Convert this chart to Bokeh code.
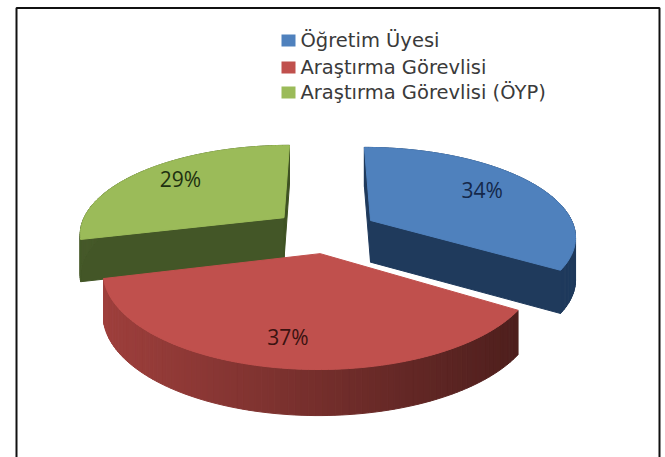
import numpy as np
from bokeh.plotting import figure
from bokeh.models import Range1d
from bokeh.core.properties import value
from bokeh.embed import file_html
from bokeh.resources import INLINE

# data
categories = ["Öğretim Üyesi", "Araştırma Görevlisi", "Araştırma Görevlisi (ÖYP)"]
shares = [34, 37, 29]
top_colors = ["#4F81BD", "#C0504D", "#9BBB59"]
side_left = ["#1F3A5C", "#9E3F3C", "#46592A"]
side_right = ["#1F3A5C", "#4E1F1D", "#3F5223"]
label_colors = ["#14284A", "#3A1210", "#1E3010"]

# projection of the tilted pie (page pixels)
X0, Y0 = 328.0, 230.4
R, RS, PERSP, EXPLODE, DEPTH = 205.0, 88.3, 0.165, 0.25, 42.0
slice_nudge = [-2, 0, -5]
label_radius = [0.68, 0.8, 0.72]
draw_cut_faces = [True, False, True]


def project(X, Z):
    w = 1 + PERSP * np.asarray(Z)
    return X0 + R * np.asarray(X) / w, Y0 - RS * np.asarray(Z) / w, w


def mix(a, b, t):
    ca = np.array([int(a[i:i + 2], 16) for i in (1, 3, 5)])
    cb = np.array([int(b[i:i + 2], 16) for i in (1, 3, 5)])
    c = (ca + (cb - ca) * t).round().astype(int)
    return "#%02x%02x%02x" % tuple(c)


p = figure(width=665, height=457, output_backend="svg", toolbar_location=None,
           x_range=Range1d(0, 665), y_range=Range1d(457, 0),
           min_border=0, outline_line_color=None,
           background_fill_color="white", border_fill_color="white")
p.axis.visible = False
p.grid.visible = False

# picture frame, open at the bottom
p.line([16, 16, 659, 659], [457, 7.5, 7.5, 457], line_color="#111111", line_width=2)

angles = np.cumsum([0] + shares) / sum(shares) * 2 * np.pi
wedges = []
for i in range(len(shares)):
    a0, a1 = angles[i], angles[i + 1]
    mid = (a0 + a1) / 2
    ax, az = EXPLODE * np.sin(mid), EXPLODE * np.cos(mid)
    th = np.linspace(a0, a1, 90)
    X = np.concatenate([[ax], ax + np.sin(th), [ax]])
    Z = np.concatenate([[az], az + np.cos(th), [az]])
    wedges.append((i, X, Z, mid, ax, az))

# painter's order: back slices first, the front (red) slice last
for i, X, Z, mid, ax, az in [wedges[0], wedges[2], wedges[1]]:
    sx, sy, w = project(X, Z)
    sx = sx + slice_nudge[i]
    drop = DEPTH / w ** 0.4
    xs, ys, cs = [], [], []
    span = max(sx.max() - sx.min(), 1)
    last = len(sx) - 2
    for j in range(len(sx) - 1):
        if j in (0, last) and not draw_cut_faces[i]:
            continue
        xs.append([sx[j], sx[j + 1], sx[j + 1], sx[j]])
        ys.append([sy[j], sy[j + 1], sy[j + 1] + drop[j + 1], sy[j] + drop[j]])
        t = ((sx[j] + sx[j + 1]) / 2 - sx.min()) / span
        cs.append(mix(side_left[i], side_right[i], float(t)))
    p.patches(xs, ys, fill_color=cs, line_color=cs, line_width=1)
    p.patch(sx, sy, fill_color=top_colors[i], line_color=top_colors[i], line_width=1)

# percentage labels
for i, X, Z, mid, ax, az in wedges:
    r = label_radius[i]
    lx, ly, _ = project(ax + r * np.sin(mid), az + r * np.cos(mid))
    p.text([float(lx) + slice_nudge[i]], [float(ly) - 4], text=[f"{shares[i]}%"],
           text_font=value("Open Sans"), text_font_size="21px",
           text_color=label_colors[i], text_align="center", text_baseline="middle")

# legend
legend_y = [40, 67, 92]
for name, color, y in zip(categories, top_colors, legend_y):
    p.rect([288], [y], width=14, height=12, fill_color=color, line_color=None)
    p.text([300], [y], text=[name], text_font=value("DejaVu Sans"), text_font_size="19.5px",
           text_color="#3A3A3A", text_align="left", text_baseline="middle")

open("out.html", "w").write(file_html(p, INLINE))
